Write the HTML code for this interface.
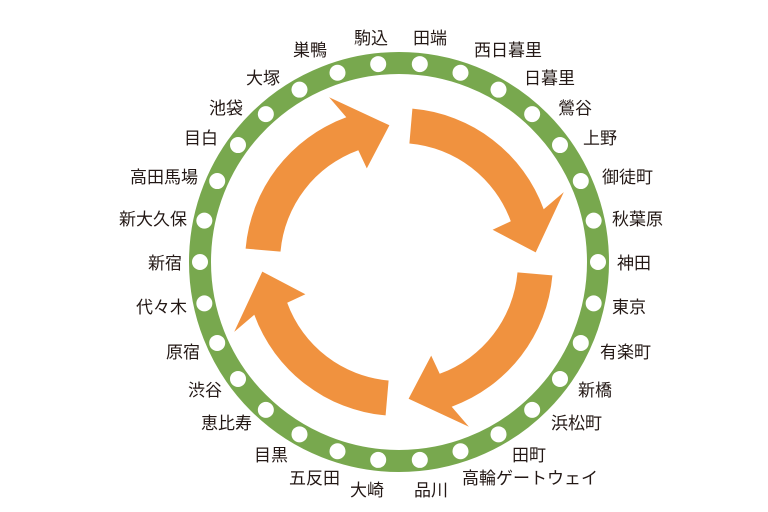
<!DOCTYPE html>
<html><head><meta charset="utf-8"><style>
html,body{margin:0;padding:0;background:#fff;width:768px;height:512px;overflow:hidden}
svg text{font-family:"Liberation Sans","Noto Sans CJK JP",sans-serif;font-size:17px;fill:#231815}
</style></head><body>
<svg id="s" width="768" height="512" viewBox="0 0 768 512" xmlns="http://www.w3.org/2000/svg">
<circle cx="399" cy="262" r="199" fill="none" stroke="#78A84E" stroke-width="22"/>
<g id="arr" fill="#F0923F"></g>
<g id="dots" fill="#fff"></g>
<g id="lbl"></g>
</svg>
<script>
var cx=399,cy=262,NS="http://www.w3.org/2000/svg";
var R=[["田端",413,38],["西日暮里",474,50],["日暮里",524,78],["鶯谷",558,108],["上野",583,138],["御徒町",602,177],["秋葉原",612,219],["神田",617,263],["東京",612,307],["有楽町",600,352],["新橋",578,390],["浜松町",551,423],["田町",512,455],["高輪ゲートウェイ",462,478],["品川",414,490]];
var L=[["大崎",384,490],["五反田",340,478],["目黒",288,455],["恵比寿",252,423],["渋谷",222,390],["原宿",200,352],["代々木",187,307],["新宿",182,263],["新大久保",187,219],["高田馬場",198,177],["目白",218,138],["池袋",243,108],["大塚",280,78],["巣鴨",327,50],["駒込",388,38]];
function P(r,a){a=a*Math.PI/180;return [cx+r*Math.sin(a),cy-r*Math.cos(a)];}
var dots=document.getElementById("dots"),lbl=document.getElementById("lbl");
for(var i=0;i<30;i++){
 var p=P(199,6+12*i);
 var c=document.createElementNS(NS,"circle");c.setAttribute("cx",p[0]);c.setAttribute("cy",p[1]);c.setAttribute("r",8);dots.appendChild(c);
}
function T(a,anc){a.forEach(function(e){var t=document.createElementNS(NS,"text");t.setAttribute("x",e[1]);t.setAttribute("y",e[2]+6);t.setAttribute("text-anchor",anc);t.textContent=e[0];lbl.appendChild(t);});}
T(R,"start");T(L,"end");
var arr=document.getElementById("arr");
function f(p){return p[0].toFixed(1)+","+p[1].toFixed(1);}
for(var k=0;k<4;k++){
 var o=k*90,a0=-85+o,a1=-20+o,at=-4+o,ri=119,ro=154;
 var d="M"+f(P(ri,a0))+" L"+f(P(ro,a0))+" A"+ro+","+ro+" 0 0 1 "+f(P(ro,a1))+
 " L"+f(P(179,a1-3))+" L"+f(P(137,at))+" L"+f(P(99,a1+1))+" L"+f(P(ri,a1))+
 " A"+ri+","+ri+" 0 0 0 "+f(P(ri,a0))+"Z";
 var pa=document.createElementNS(NS,"path");pa.setAttribute("d",d);arr.appendChild(pa);
}
</script>
</body></html>
